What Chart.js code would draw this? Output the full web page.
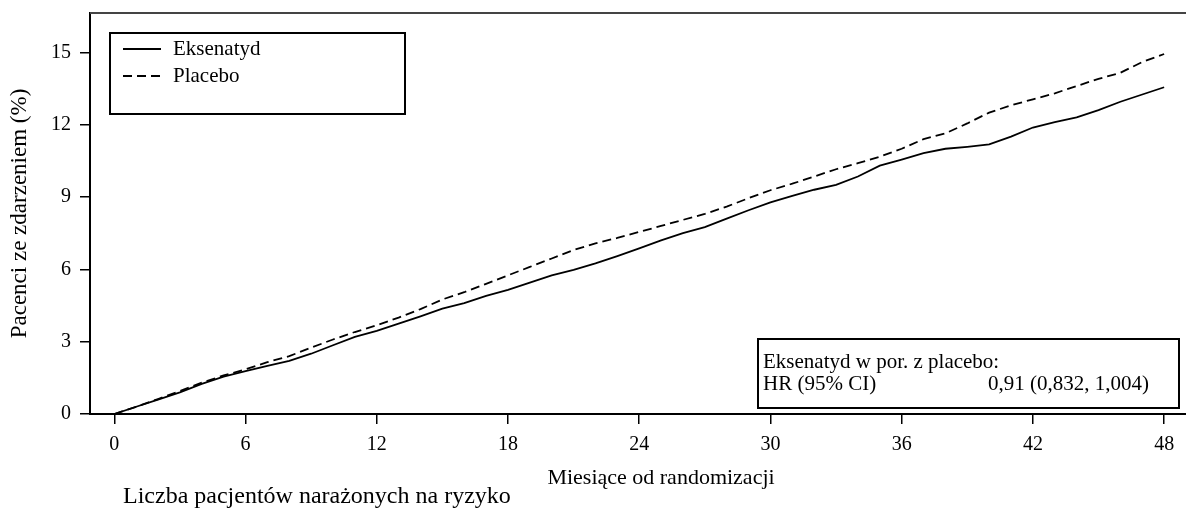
<!DOCTYPE html>
<html>
<head>
<meta charset="utf-8">
<script src="https://cdn.jsdelivr.net/npm/chart.js@4.4.1/dist/chart.umd.min.js"></script>
<style>
  html, body { margin: 0; padding: 0; background: #fff; }
  #wrap { width: 1186px; height: 510px; }
</style>
</head>
<body>
<div id="wrap"><canvas id="chart" width="1186" height="510"></canvas></div>
<script>
// months since randomisation
const months = [0, 1, 2, 3, 4, 5, 6, 7, 8, 9, 10, 11, 12, 13, 14, 15, 16, 17, 18, 19, 20,
  21, 22, 23, 24, 25, 26, 27, 28, 29, 30, 31, 32, 33, 34, 35, 36, 37, 38, 39, 40,
  41, 42, 43, 44, 45, 46, 47, 48];

// cumulative % of patients with event
const eksenatyd = [0, 0.3, 0.6, 0.9, 1.25, 1.55, 1.78, 2.0, 2.2, 2.5, 2.85, 3.2, 3.45,
  3.75, 4.05, 4.37, 4.6, 4.9, 5.15, 5.45, 5.75, 5.98, 6.25, 6.55, 6.87, 7.2, 7.5,
  7.75, 8.1, 8.45, 8.78, 9.05, 9.3, 9.5, 9.85, 10.3, 10.55, 10.82, 11.0, 11.08,
  11.18, 11.5, 11.88, 12.1, 12.3, 12.6, 12.95, 13.25, 13.55];
const placebo = [0, 0.3, 0.62, 0.95, 1.3, 1.6, 1.85, 2.15, 2.4, 2.75, 3.09, 3.4, 3.68,
  4.0, 4.35, 4.75, 5.05, 5.4, 5.75, 6.1, 6.45, 6.8, 7.08, 7.3, 7.55, 7.8, 8.05,
  8.3, 8.6, 8.95, 9.28, 9.55, 9.85, 10.15, 10.4, 10.67, 11.0, 11.4, 11.64, 12.05,
  12.5, 12.8, 13.05, 13.3, 13.6, 13.9, 14.15, 14.6, 14.93];

const seriesNames = ['Eksenatyd', 'Placebo'];
const xTicks = [0, 6, 12, 18, 24, 30, 36, 42, 48];
const yTicks = [0, 3, 6, 9, 12, 15];

const xTitle = 'Miesiące od randomizacji';
const yTitle = 'Pacenci ze zdarzeniem (%)';
const hrTitle = 'Eksenatyd w por. z placebo:';
const hrLabel = 'HR (95% CI)';
const hrValue = '0,91 (0,832, 1,004)';
const riskTitle = 'Liczba pacjentów narażonych na ryzyko';

const FONT = "'Liberation Serif', 'Times New Roman', serif";

const toPoints = (ys) => months.map((m, i) => ({ x: m, y: ys[i] }));

// frame top line, legend box, HR box, x title and the risk table heading
const extras = {
  id: 'extras',
  afterDraw(chart) {
    const c = chart.ctx;
    const a = chart.chartArea;
    c.save();

    c.strokeStyle = '#444';
    c.lineWidth = 2;
    c.beginPath();
    c.moveTo(a.left, a.top);
    c.lineTo(a.right, a.top);
    c.stroke();

    // legend
    const lx = a.left + 20, ly = a.top + 20;
    c.strokeStyle = '#000';
    c.lineWidth = 2;
    c.strokeRect(lx, ly, 295, 81);
    c.font = '21px ' + FONT;
    c.fillStyle = '#000';
    c.textBaseline = 'middle';
    chart.data.datasets.forEach((ds, i) => {
      const yy = ly + 16 + i * 27;
      c.setLineDash(ds.borderDash || []);
      c.lineWidth = 2;
      c.beginPath();
      c.moveTo(lx + 13, yy);
      c.lineTo(lx + 51, yy);
      c.stroke();
      c.setLineDash([]);
      c.fillText(ds.label, lx + 63, yy);
    });

    // hazard ratio box
    const bx = a.right - 428, by = a.bottom - 75;
    c.lineWidth = 2;
    c.strokeRect(bx, by, 421, 69);
    c.textAlign = 'left';
    c.fillText(hrTitle, bx + 5, by + 23);
    c.fillText(hrLabel, bx + 5, by + 45);
    c.textAlign = 'right';
    c.fillText(hrValue, bx + 391, by + 45);

    // x axis title, sits a bit right of the plot centre in the original
    c.font = '22px ' + FONT;
    c.textAlign = 'center';
    c.fillText(xTitle, 661, 478);

    c.font = '24px ' + FONT;
    c.textAlign = 'left';
    c.fillText(riskTitle, 123, 497);
    c.restore();
  }
};

new Chart(document.getElementById('chart'), {
  type: 'line',
  data: {
    datasets: [
      {
        label: seriesNames[0],
        data: toPoints(eksenatyd),
        borderColor: '#000',
        borderWidth: 1.8,
        pointRadius: 0,
        tension: 0,
        fill: false
      },
      {
        label: seriesNames[1],
        data: toPoints(placebo),
        borderColor: '#000',
        borderWidth: 1.8,
        borderDash: [9, 5],
        pointRadius: 0,
        tension: 0,
        fill: false
      }
    ]
  },
  options: {
    responsive: false,
    animation: false,
    devicePixelRatio: 1,
    layout: { padding: { top: 13, right: 0, left: 0, bottom: 0 } },
    plugins: {
      legend: { display: false },
      tooltip: { enabled: false }
    },
    scales: {
      x: {
        type: 'linear',
        min: -1.11,
        max: 49,
        afterBuildTicks: (s) => { s.ticks = xTicks.map(v => ({ value: v })); },
        afterFit: (s) => { s.height = 96; s.paddingLeft = 0; s.paddingRight = 0; },
        grid: { drawOnChartArea: false, drawTicks: true, tickLength: 10, color: '#000', lineWidth: 1.5 },
        border: { display: true, color: '#000', width: 2 },
        ticks: { color: '#000', font: { family: FONT, size: 20 }, padding: 9, maxRotation: 0 }
      },
      y: {
        type: 'linear',
        min: 0,
        max: 16.63,
        afterBuildTicks: (s) => { s.ticks = yTicks.map(v => ({ value: v })); },
        afterFit: (s) => { s.width = 90; s.paddingTop = 0; s.paddingBottom = 0; },
        grid: { drawOnChartArea: false, drawTicks: true, tickLength: 10, color: '#000', lineWidth: 1.5 },
        border: { display: true, color: '#000', width: 2 },
        ticks: { color: '#000', font: { family: FONT, size: 20 }, padding: 9 },
        title: {
          display: true,
          text: yTitle,
          color: '#000',
          font: { family: FONT, size: 23 },
          padding: { top: 6, bottom: 0 }
        }
      }
    }
  },
  plugins: [extras]
});
</script>
</body>
</html>
